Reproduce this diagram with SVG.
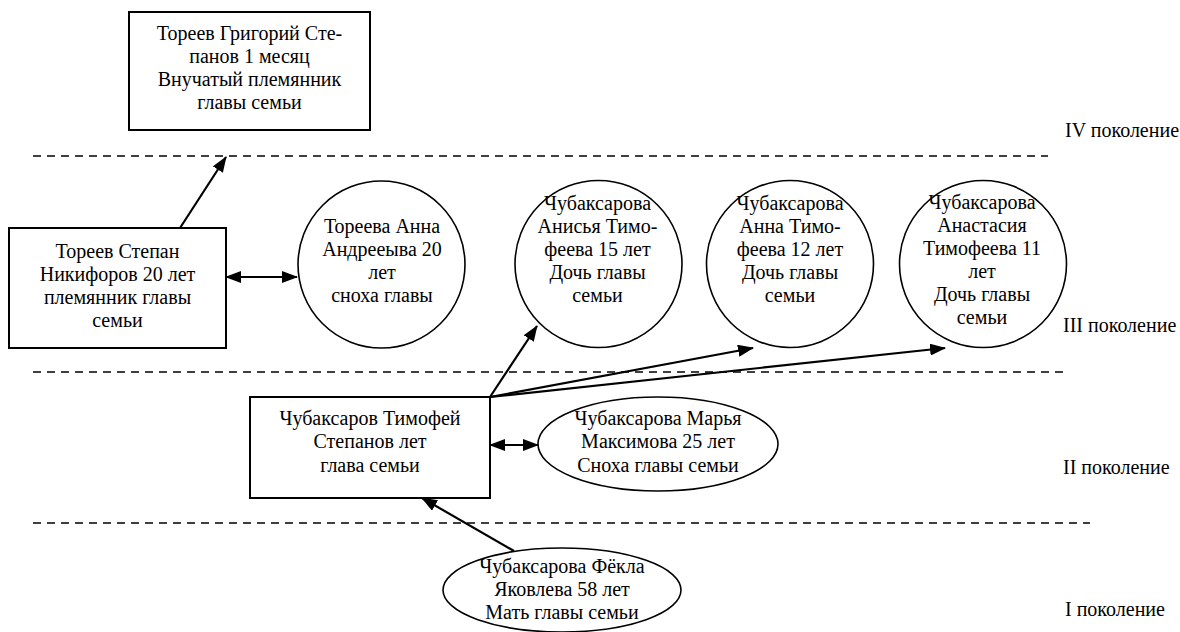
<svg xmlns="http://www.w3.org/2000/svg" width="1180" height="632" viewBox="0 0 1180 632">
  <style>
    .box { fill: #fff; stroke: #000; stroke-width: 2; }
    .oval { fill: #fff; stroke: #000; stroke-width: 1.6; }
    .t { font-family: "Liberation Serif", "Times New Roman", serif; font-size: 20px; fill: #000; text-anchor: middle; }
    .gen { font-family: "Liberation Serif", "Times New Roman", serif; font-size: 20px; fill: #000; }
    .sep { stroke: #000; stroke-width: 1.6; stroke-dasharray: 8 6; fill: none; }
    .link { stroke: #000; stroke-width: 2.2; fill: none; }
  </style>
  <defs>
    <marker id="head" viewBox="0 0 16 12" refX="15" refY="6" markerWidth="16" markerHeight="12" markerUnits="userSpaceOnUse" orient="auto-start-reverse">
      <path d="M0,0 L16,6 L0,12 Z" fill="#000"/>
    </marker>
  </defs>
  <rect width="1180" height="632" fill="#fff"/>

  <!-- generation separators -->
  <g id="separators">
    <line class="sep" x1="33" y1="156" x2="1048" y2="156"/>
    <line class="sep" x1="33" y1="372" x2="1063" y2="372"/>
    <line class="sep" x1="33" y1="523" x2="1090" y2="523"/>
  </g>

  <!-- generation labels -->
  <g id="labels">
    <text class="gen" x="1065" y="137">IV поколение</text>
    <text class="gen" x="1063" y="332">III поколение</text>
    <text class="gen" x="1063" y="474">II поколение</text>
    <text class="gen" x="1065" y="616">I поколение</text>
  </g>

  <g id="grigoriy">
    <rect class="box" x="129" y="12" width="241" height="118"/>
    <text class="t" x="249.5" y="40">Тореев Григорий Сте-</text>
    <text class="t" x="249.5" y="63">панов 1 месяц</text>
    <text class="t" x="249.5" y="86">Внучатый племянник</text>
    <text class="t" x="249.5" y="109">главы семьи</text>
  </g>

  <g id="stepan">
    <rect class="box" x="9" y="228" width="217" height="120"/>
    <text class="t" x="117.5" y="258">Тореев Степан</text>
    <text class="t" x="117.5" y="281">Никифоров 20 лет</text>
    <text class="t" x="117.5" y="304">племянник главы</text>
    <text class="t" x="117.5" y="327">семьи</text>
  </g>

  <g id="anna-toreeva">
    <circle class="oval" cx="381.5" cy="264.5" r="83.5"/>
    <text class="t" x="382" y="233">Тореева Анна</text>
    <text class="t" x="382" y="256">Андрееыва 20</text>
    <text class="t" x="382" y="279">лет</text>
    <text class="t" x="382" y="302">сноха главы</text>
  </g>

  <g id="anisya">
    <circle class="oval" cx="598.5" cy="264" r="83.5"/>
    <text class="t" x="597.5" y="210">Чубаксарова</text>
    <text class="t" x="597.5" y="233">Анисья Тимо-</text>
    <text class="t" x="597.5" y="256">феева 15 лет</text>
    <text class="t" x="597.5" y="279">Дочь главы</text>
    <text class="t" x="597.5" y="302">семьи</text>
  </g>

  <g id="anna">
    <circle class="oval" cx="790" cy="264" r="83.5"/>
    <text class="t" x="790" y="210">Чубаксарова</text>
    <text class="t" x="790" y="233">Анна Тимо-</text>
    <text class="t" x="790" y="256">феева 12 лет</text>
    <text class="t" x="790" y="279">Дочь главы</text>
    <text class="t" x="790" y="302">семьи</text>
  </g>

  <g id="anastasiya">
    <circle class="oval" cx="983" cy="264" r="83.5"/>
    <text class="t" x="982" y="209">Чубаксарова</text>
    <text class="t" x="982" y="232">Анастасия</text>
    <text class="t" x="982" y="255">Тимофеева 11</text>
    <text class="t" x="982" y="278">лет</text>
    <text class="t" x="982" y="301">Дочь главы</text>
    <text class="t" x="982" y="324">семьи</text>
  </g>

  <g id="timofey">
    <rect class="box" x="250" y="397" width="240" height="101"/>
    <text class="t" x="370" y="425">Чубаксаров Тимофей</text>
    <text class="t" x="370" y="448">Степанов лет</text>
    <text class="t" x="370" y="472">глава семьи</text>
  </g>

  <g id="marya">
    <ellipse class="oval" cx="658" cy="444" rx="120" ry="47"/>
    <text class="t" x="658" y="425">Чубаксарова Марья</text>
    <text class="t" x="658" y="448">Максимова 25 лет</text>
    <text class="t" x="658" y="472">Сноха главы семьи</text>
  </g>

  <g id="fyokla">
    <ellipse class="oval" cx="562" cy="590" rx="119" ry="42"/>
    <text class="t" x="562" y="573">Чубаксарова Фёкла</text>
    <text class="t" x="562" y="596">Яковлева 58 лет</text>
    <text class="t" x="562" y="619">Мать главы семьи</text>
  </g>

  <!-- kinship connectors -->
  <g id="connectors">
    <line class="link" x1="180" y1="228" x2="226" y2="157" marker-end="url(#head)"/>
    <line class="link" x1="226" y1="277" x2="297" y2="277" marker-start="url(#head)" marker-end="url(#head)"/>
    <line class="link" x1="490" y1="397" x2="537" y2="326" marker-end="url(#head)"/>
    <line class="link" x1="490" y1="397" x2="753" y2="348" marker-end="url(#head)"/>
    <line class="link" x1="490" y1="397" x2="945" y2="348" marker-end="url(#head)"/>
    <line class="link" x1="490" y1="445" x2="538" y2="445" marker-start="url(#head)" marker-end="url(#head)"/>
    <line class="link" x1="514" y1="551" x2="422" y2="498" marker-end="url(#head)"/>
  </g>
</svg>
